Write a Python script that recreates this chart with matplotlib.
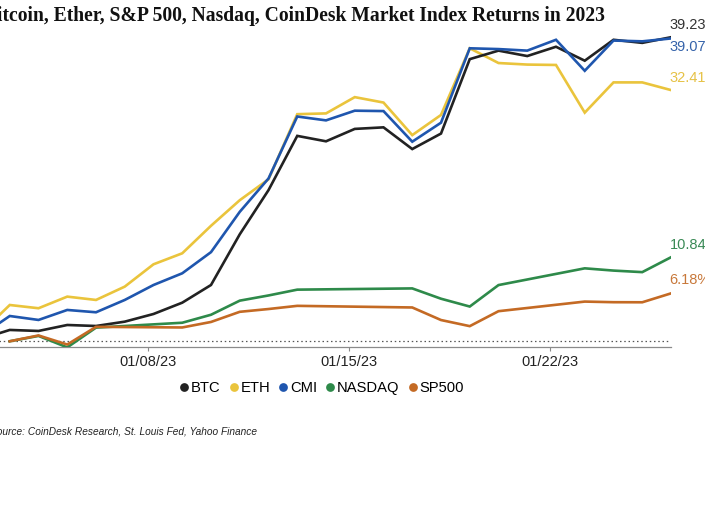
import matplotlib
matplotlib.use('Agg')
import matplotlib.pyplot as plt
from matplotlib.lines import Line2D
import pandas as pd

# ---------------- data ----------------
crypto_dates = pd.date_range('2023-01-02 05:00', '2023-01-26 05:00', freq='D')
btc = [0.3, 1.46, 1.33, 2.1, 1.97, 2.53, 3.52, 4.98, 7.26, 13.8, 19.5, 26.5, 25.8,
       27.4, 27.6, 24.8, 26.8, 36.4, 37.5, 36.8, 38.0, 36.2, 38.9, 38.5, 39.23]
eth = [1.1, 4.68, 4.26, 5.76, 5.33, 7.05, 9.93, 11.35, 14.9, 18.2, 20.9, 29.3, 29.4,
       31.5, 30.8, 26.6, 29.2, 37.8, 35.9, 35.7, 35.65, 29.5, 33.4, 33.4, 32.41]
cmi = [0.73, 3.26, 2.75, 4.04, 3.74, 5.33, 7.26, 8.77, 11.5, 16.7, 21.0, 29.0, 28.5,
       29.75, 29.7, 25.75, 28.2, 37.8, 37.7, 37.5, 38.9, 34.9, 38.8, 38.7, 39.07]

stock_days = ['2023-01-03', '2023-01-04', '2023-01-05', '2023-01-06', '2023-01-09',
              '2023-01-10', '2023-01-11', '2023-01-12', '2023-01-13', '2023-01-17',
              '2023-01-18', '2023-01-19', '2023-01-20', '2023-01-23', '2023-01-24',
              '2023-01-25', '2023-01-26']
stock_dates = pd.to_datetime(stock_days) + pd.Timedelta(hours=5)
nasdaq = [0, 0.69, -0.79, 1.76, 2.39, 3.42, 5.24, 5.91, 6.66, 6.82, 5.49, 4.48, 7.25,
          9.41, 9.12, 8.92, 10.84]
sp500 = [0, 0.75, -0.42, 1.86, 1.78, 2.49, 3.80, 4.16, 4.57, 4.36, 2.74, 1.95, 3.88,
         5.12, 5.04, 5.03, 6.18]

tick_dates = pd.to_datetime(['2023-01-08', '2023-01-15', '2023-01-22'])
tick_labels = ['01/08/23', '01/15/23', '01/22/23']

series_names = ['BTC', 'ETH', 'CMI', 'NASDAQ', 'SP500']
end_labels = ['39.23%', '32.41%', '39.07%', '10.84%', '6.18%']

title = 'Bitcoin, Ether, S&P 500, Nasdaq, CoinDesk Market Index Returns in 2023'
source = 'Source: CoinDesk Research, St. Louis Fed, Yahoo Finance'

# ---------------- style ----------------
colors = {'BTC': '#222222', 'ETH': '#EAC43C', 'CMI': '#1F56AE',
          'NASDAQ': '#2E8A4A', 'SP500': '#C46A24'}
label_colors = {'BTC': '#333333', 'ETH': '#E6C246', 'CMI': '#3563AA',
                'NASDAQ': '#3A8A56', 'SP500': '#C8783A'}

W, H = 705, 529
fig = plt.figure(figsize=(W / 100, H / 100), dpi=100)
ax = fig.add_axes([-19 / W, 182 / H, 690 / W, (505.5 - 182) / H])

data = {
    'ETH': (crypto_dates, eth),
    'BTC': (crypto_dates, btc),
    'CMI': (crypto_dates, cmi),
    'NASDAQ': (stock_dates, nasdaq),
    'SP500': (stock_dates, sp500),
}
for name in ['ETH', 'BTC', 'CMI', 'NASDAQ', 'SP500']:
    x, y = data[name]
    ax.plot(x, y, color=colors[name], lw=1.9, solid_joinstyle='miter', zorder=3)

ax.axhline(0, color='#555555', lw=0.9, ls=(0, (1.2, 2.2)), zorder=1)

ax.set_xlim(crypto_dates[0], crypto_dates[-1])
ax.set_ylim(-0.74, 41)

for s in ['top', 'right', 'left']:
    ax.spines[s].set_visible(False)
ax.spines['bottom'].set_color('#8a8a8a')
ax.spines['bottom'].set_linewidth(0.9)
ax.set_yticks([])
ax.set_xticks(tick_dates)
ax.set_xticklabels(tick_labels, fontsize=10.5, color='#222222', family='Liberation Sans')
ax.tick_params(axis='x', length=3, width=0.8, color='#8a8a8a', pad=2.5)

# end labels
ends = {'BTC': (btc[-1], 'bottom', 4), 'ETH': (eth[-1], 'bottom', 4),
        'CMI': (cmi[-1], 'top', -1), 'NASDAQ': (nasdaq[-1], 'bottom', 4),
        'SP500': (sp500[-1], 'bottom', 4.5)}
lab = dict(zip(['BTC', 'ETH', 'CMI', 'NASDAQ', 'SP500'], end_labels))
for name, (val, va, off) in ends.items():
    ax.annotate(lab[name], xy=(crypto_dates[-1], val), xytext=(-1, off),
                textcoords='offset points', ha='left', va=va,
                fontsize=10.5, color=label_colors[name], family='Liberation Sans',
                annotation_clip=False)

# legend
handles = [Line2D([], [], ls='none', marker='o', markersize=6.3,
                  color=colors[n], markeredgewidth=0) for n in series_names]
fig.legend(handles, series_names, loc='center', bbox_to_anchor=(322 / W, (H - 388) / H),
           ncol=5, frameon=False, handlelength=0.55, handletextpad=0.2,
           columnspacing=0.6, prop={'family': 'Liberation Sans', 'size': 10.6})

# title and source
fig.text(605 / W, (H - 21) / H, title, ha='right', va='baseline',
         fontsize=14.1, fontweight='bold', family='Liberation Serif', color='#111111')
fig.text(257 / W, (H - 431.5) / H, source, ha='right', va='center',
         fontsize=7.25, style='italic', family='Liberation Sans', color='#222222')

fig.savefig('out.png', dpi=100, facecolor='white')
